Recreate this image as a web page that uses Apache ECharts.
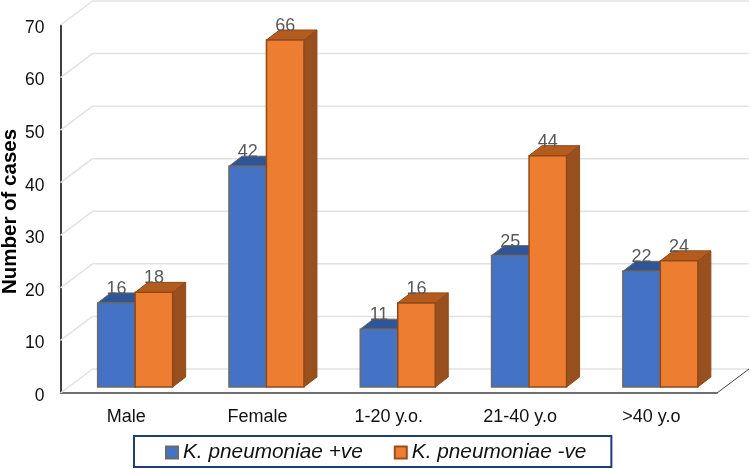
<!DOCTYPE html>
<html>
<head>
<meta charset="utf-8">
<style>
  html, body { margin: 0; padding: 0; background: #fff; }
  #chart { width: 750px; height: 469px; }
</style>
</head>
<body>
<div id="chart"></div>
<script src="https://cdn.jsdelivr.net/npm/echarts@6/dist/echarts.min.js"></script>
<script>
const categories = ['Male', 'Female', '1-20 y.o.', '21-40 y.o', '>40 y.o']
const positiveCases = [16, 42, 11, 25, 22]
const negativeCases = [18, 66, 16, 44, 24]
const yTicks = [0, 10, 20, 30, 40, 50, 60, 70]

const font = '"Liberation Sans", Arial, sans-serif'

// fake 3d: how far the back wall and the bars sit behind the front plane
const wallDepth = [32, -24]
const barShift = [9, -6]
const barDepth = [13, -10]
const barWidth = 37.5

function poly (points, fill, stroke, width) {
  return {
    type: 'polygon',
    shape: { points: points },
    style: { fill: fill, stroke: stroke, lineWidth: width }
  }
}

function line (x1, y1, x2, y2, color, width) {
  return {
    type: 'line',
    shape: { x1: x1, y1: y1, x2: x2, y2: y2 },
    style: { stroke: color, lineWidth: width }
  }
}

function renderWall (params, api) {
  const sys = params.coordSys
  const y = api.coord([0, api.value(0)])[1]
  const left = sys.x
  const backX = left + wallDepth[0]
  const backY = y + wallDepth[1]
  const children = [
    line(left, y, backX, backY, '#e2e2e2', 1.5),
    line(backX, backY, left + sys.width + wallDepth[0], backY, '#e2e2e2', 1.5)
  ]
  if (api.value(0) === 0) {
    children.push(line(left + sys.width, y, left + sys.width + wallDepth[0], backY, '#404040', 1))
  }
  return { type: 'group', children: children }
}

function barRenderer (side, colors) {
  return function (params, api) {
    const value = api.value(1)
    const center = api.coord([api.value(0), 0])[0] + barShift[0]
    const x0 = side < 0 ? center - barWidth : center
    const x1 = x0 + barWidth
    const yBottom = api.coord([0, 0])[1] + barShift[1]
    const yTop = api.coord([0, value])[1] + barShift[1]
    const dx = barDepth[0]
    const dy = barDepth[1]
    return {
      type: 'group',
      children: [
        poly([[x1, yTop], [x1 + dx, yTop + dy], [x1 + dx, yBottom + dy], [x1, yBottom]], colors.side, colors.border, 1),
        poly([[x0, yTop], [x0 + dx, yTop + dy], [x1 + dx, yTop + dy], [x1, yTop]], colors.top, colors.border, 1),
        poly([[x0, yTop], [x1, yTop], [x1, yBottom], [x0, yBottom]], colors.front, colors.border, 1.5),
        {
          type: 'text',
          z2: 10,
          style: {
            text: String(value),
            x: (x0 + x1) / 2,
            y: yTop - 14,
            align: 'center',
            verticalAlign: 'middle',
            fill: '#595959',
            font: '18px ' + font
          }
        }
      ]
    }
  }
}

const chart = echarts.init(document.getElementById('chart'), null, { renderer: 'canvas' })

chart.setOption({
  animation: false,
  backgroundColor: '#fff',
  grid: { left: 60.5, right: 33, top: 25, bottom: 76, containLabel: false, outerBoundsMode: 'none' },
  xAxis: {
    type: 'category',
    data: categories,
    axisTick: { show: false },
    axisLine: { lineStyle: { color: '#404040', width: 1.5 } },
    axisLabel: { color: '#111', fontFamily: font, fontSize: 18, margin: 15, interval: 0 }
  },
  yAxis: {
    type: 'value',
    min: 0,
    max: 70,
    interval: 10,
    name: 'Number of cases',
    nameLocation: 'middle',
    nameGap: 40,
    nameMoveOverlap: false,
    nameTextStyle: { color: '#000', fontFamily: font, fontSize: 20.5, fontWeight: 'bold', padding: [0, 5, 0, 0] },
    splitLine: { show: false },
    axisTick: { show: false },
    axisLine: { show: true, lineStyle: { color: '#000', width: 1.5 } },
    axisLabel: { color: '#111', fontFamily: font, fontSize: 17.5, margin: 16, verticalAlign: 'top', lineHeight: 6 }
  },
  legend: {
    left: 134,
    top: 436,
    padding: [6, 25, 4, 31],
    icon: 'rect',
    itemWidth: 12,
    itemHeight: 12,
    itemGap: 31,
    borderColor: '#1f3c7c',
    borderWidth: 2,
    textStyle: { color: '#111', fontFamily: font, fontSize: 20.8, fontStyle: 'italic' },
    data: ['K. pneumoniae +ve', 'K. pneumoniae -ve']
  },
  series: [
    {
      type: 'custom',
      name: 'wall',
      silent: true,
      data: yTicks.map(v => [v]),
      encode: { y: 0 },
      renderItem: renderWall
    },
    {
      type: 'custom',
      name: 'K. pneumoniae +ve',
      itemStyle: { color: '#4472c4', borderColor: '#6b6b6b', borderWidth: 1.5 },
      data: positiveCases.map((v, i) => [i, v]),
      encode: { x: 0, y: 1 },
      renderItem: barRenderer(-1, { front: '#4472c4', top: '#2f5597', side: '#2f5597', border: '#6b6b6b' })
    },
    {
      type: 'custom',
      name: 'K. pneumoniae -ve',
      itemStyle: { color: '#ed7d31', borderColor: '#9c4f1c', borderWidth: 1.5 },
      data: negativeCases.map((v, i) => [i, v]),
      encode: { x: 0, y: 1 },
      renderItem: barRenderer(1, { front: '#ed7d31', top: '#b35c1e', side: '#97501e', border: '#8f4a18' })
    }
  ]
})
</script>
</body>
</html>
